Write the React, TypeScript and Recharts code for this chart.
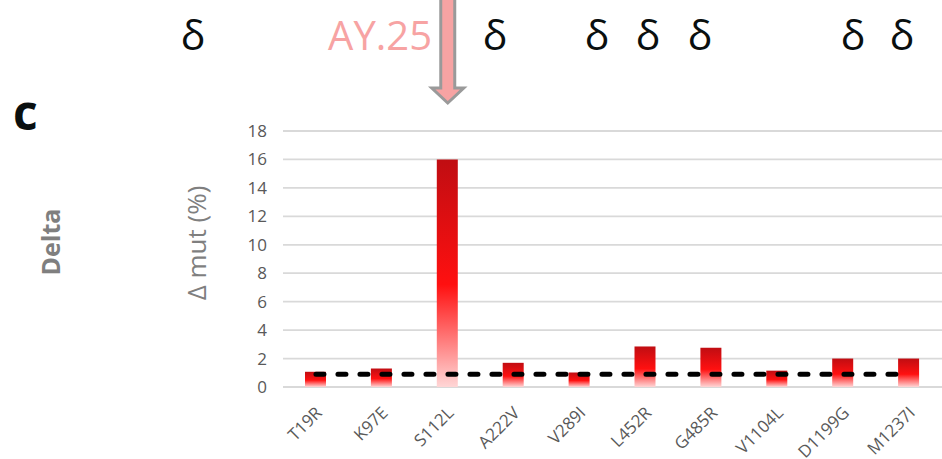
import React from 'react';
import {
  Bar,
  CartesianGrid,
  ComposedChart,
  Line,
  ReferenceLine,
  XAxis,
  YAxis,
} from 'recharts';

const mutations = ['T19R', 'K97E', 'S112L', 'A222V', 'V289I', 'L452R', 'G485R', 'V1104L', 'D1199G', 'M1237I'];
const deltaMut = [1.07, 1.3, 16, 1.7, 1.02, 2.85, 2.76, 1.15, 2.0, 2.0];
const threshold = [0.9, 0.9, 0.9, 0.9, 0.9, 0.9, 0.9, 0.9, 0.9, 0.9];
const yTicks = [0, 2, 4, 6, 8, 10, 12, 14, 16, 18];
const highlighted = 'S112L';
const highlightLabel = 'AY.25';

const data = mutations.map((m, i) => ({ name: m, value: deltaMut[i], threshold: threshold[i] }));

const FONT = '"Open Sans", "DejaVu Sans", sans-serif';

function XTick({ x, y, payload }: { x?: number; y?: number; payload?: { value: string } }) {
  const ax = (x ?? 0) + 7;
  const ay = (y ?? 0) + 19;
  return (
    <text
      x={ax}
      y={ay}
      transform={`rotate(-45, ${ax}, ${ay})`}
      textAnchor="end"
      fill="#595959"
      fontSize={17}
      fontFamily={FONT}
    >
      {payload?.value}
    </text>
  );
}

function ArrowShape(props: { x1?: number; y1?: number; y2?: number }) {
  const cx = props.x1 ?? 0;
  const top = Math.min(props.y1 ?? 0, props.y2 ?? 0);
  const tip = top - 28;
  const neck = tip - 15;
  const pts = [
    [cx - 7, -5],
    [cx + 7, -5],
    [cx + 7, neck],
    [cx + 16, neck],
    [cx, tip],
    [cx - 16, neck],
    [cx - 7, neck],
  ]
    .map((p) => p.join(','))
    .join(' ');
  return <polygon points={pts} fill="#f7a3a3" stroke="#9a9a9a" strokeWidth={3} strokeLinejoin="miter" />;
}

export default function App() {
  const deltaMarks = [193, 495, 597, 648, 700, 853, 902];
  return (
    <div style={{ position: 'absolute', left: 0, top: 0, width: 942, height: 459, background: '#fff' }}>
      <ComposedChart width={942} height={459} data={data} margin={{ top: 131, right: 0, left: 0, bottom: 0 }}>
        <defs>
          <linearGradient id="barFill" x1="0" y1="0" x2="0" y2="1">
            <stop offset="0%" stopColor="#c00d12" />
            <stop offset="55%" stopColor="#ff1010" />
            <stop offset="100%" stopColor="#ffd6d6" />
          </linearGradient>
        </defs>
        <CartesianGrid vertical={false} stroke="#d9d9d9" strokeWidth={1.8} />
        <XAxis
          dataKey="name"
          height={72}
          axisLine={false}
          tickLine={false}
          interval={0}
          tick={<XTick />}
        />
        <YAxis
          width={283}
          domain={[0, 18]}
          ticks={yTicks}
          axisLine={false}
          tickLine={false}
          tickMargin={10}
          tick={{ fontSize: 17, fill: '#595959', fontFamily: FONT }}
        />
        <Bar dataKey="value" barSize={21} fill="url(#barFill)" isAnimationActive={false} />
        <Line
          type="linear"
          dataKey="threshold"
          stroke="#000"
          strokeWidth={5}
          strokeDasharray="8 14"
          strokeLinecap="round"
          dot={false}
          activeDot={false}
          isAnimationActive={false}
        />
        <ReferenceLine x={highlighted} stroke="none" shape={(p: any) => <ArrowShape {...p} />} />
      </ComposedChart>
      <svg width={942} height={459} style={{ position: 'absolute', left: 0, top: 0, pointerEvents: 'none' }}>
        {deltaMarks.map((cx) => (
          <text key={cx} x={cx} y={50} textAnchor="middle" fontSize={41} fill="#0a0f0f" fontFamily={FONT}>
            δ
          </text>
        ))}
        <text x={432} y={50} textAnchor="end" fontSize={40} fill="#f7a3a3" fontFamily={FONT}>
          {highlightLabel}
        </text>
        <text x={13} y={130} fontSize={48} fontWeight="bold" fill="#0a0f0f" fontFamily={FONT}>
          c
        </text>
        <text
          x={60}
          y={242}
          transform="rotate(-90, 60, 242)"
          textAnchor="middle"
          fontSize={25}
          fontWeight="bold"
          fill="#7f7f7f"
          fontFamily={FONT}
        >
          Delta
        </text>
        <text
          x={206}
          y={243}
          transform="rotate(-90, 206, 243)"
          textAnchor="middle"
          fontSize={26}
          fill="#7f7f7f"
          fontFamily={FONT}
        >
          Δ mut (%)
        </text>
      </svg>
    </div>
  );
}
